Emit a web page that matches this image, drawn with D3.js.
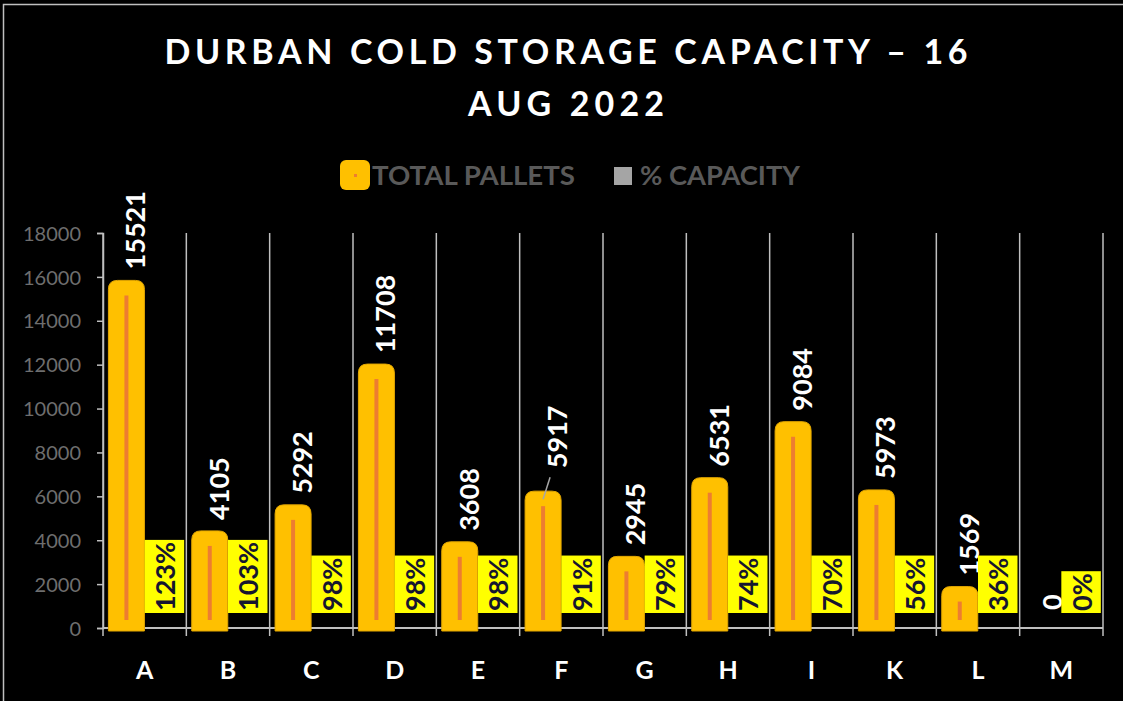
<!DOCTYPE html>
<html>
<head>
<meta charset="utf-8">
<script src="https://cdn.jsdelivr.net/npm/d3@7"></script>
<style>
  html, body { margin: 0; padding: 0; background: #000; }
  svg { display: block; font-family: Lato, "Open Sans", sans-serif; }
</style>
</head>
<body>
<svg id="chart" width="1123" height="701"></svg>
<script>
// ---- data ----
const categories = ["A","B","C","D","E","F","G","H","I","K","L","M"];
const totalPallets = [15521,4105,5292,11708,3608,5917,2945,6531,9084,5973,1569,0];
const pctCapacity = [123,103,98,98,98,91,79,74,70,56,36,0];
const yTicks = [0,2000,4000,6000,8000,10000,12000,14000,16000,18000];
const titleLines = ["DURBAN COLD STORAGE CAPACITY \u2013 16", "AUG 2022"];
const seriesNames = ["TOTAL PALLETS", "% CAPACITY"];

(function () {
const svg = d3.select("#chart");
const W = 1123, H = 701;

svg.append("rect").attr("width", W).attr("height", H).attr("fill", "#000");
// border (top + left visible)
svg.append("rect").attr("x", 3.5).attr("y", 4.5).attr("width", W + 10).attr("height", H + 10)
  .attr("fill", "none").attr("stroke", "#bfbfbf").attr("stroke-width", 1.5);

const pLeft = 103, pRight = 1103, pTop = 233, pBottom = 628;

const x0 = d3.scaleBand().domain(categories).range([pLeft, pRight]).paddingInner(0.076).paddingOuter(0.038);
const x1 = d3.scaleBand().domain(["pallets","pct"]).range([0, x0.bandwidth()]);
const y = d3.scaleLinear().domain([0, 18000]).range([pBottom, pTop]);
const step = x0.step();

// title
const titleG = svg.append("g").attr("fill", "#fff").attr("font-weight", 700).attr("font-size", 34)
  .attr("text-anchor", "middle");
const titleWidths = [803, 196];
const titleBase = [64, 116];
titleLines.forEach((t, i) => {
  titleG.append("text").attr("x", 566).attr("y", titleBase[i]).text(t)
    .attr("textLength", titleWidths[i]).attr("lengthAdjust", "spacing");
});

// legend
const lg = svg.append("g");
lg.append("rect").attr("x", 340).attr("y", 160).attr("width", 30).attr("height", 30).attr("rx", 6)
  .attr("fill", "#FFC000");
lg.append("rect").attr("x", 354).attr("y", 174).attr("width", 3).attr("height", 3).attr("fill", "#ED7D31");
lg.append("text").attr("x", 372).attr("y", 185).attr("fill", "#595959").attr("font-weight", 700)
  .attr("font-size", 26).text(seriesNames[0]).attr("textLength", 203).attr("lengthAdjust", "spacingAndGlyphs");
lg.append("rect").attr("x", 614).attr("y", 167).attr("width", 18).attr("height", 18).attr("fill", "#A5A5A5");
lg.append("text").attr("x", 640).attr("y", 185).attr("fill", "#595959").attr("font-weight", 700)
  .attr("font-size", 26).text(seriesNames[1]).attr("textLength", 160).attr("lengthAdjust", "spacingAndGlyphs");

// gridlines (category boundaries)
const bounds = categories.map((c, i) => pLeft + i * step).concat([pRight]);
svg.append("g").selectAll("line").data(bounds).join("line")
  .attr("x1", d => d).attr("x2", d => d).attr("y1", pTop).attr("y2", pBottom + 8)
  .attr("stroke", "#bfbfbf").attr("stroke-width", 1.5);
// x axis line
svg.append("line").attr("x1", pLeft).attr("x2", pRight).attr("y1", pBottom).attr("y2", pBottom)
  .attr("stroke", "#bfbfbf").attr("stroke-width", 2);

// y axis
const yAxis = d3.axisLeft(y).tickValues(yTicks).tickSize(6).tickPadding(16).tickFormat(d3.format("d"));
const yg = svg.append("g").attr("transform", `translate(${pLeft},0)`).call(yAxis);
yg.select(".domain").attr("stroke", "#bfbfbf").attr("stroke-width", 1.5);
yg.selectAll(".tick line").attr("stroke", "#bfbfbf").attr("stroke-width", 1.5);
yg.selectAll(".tick text").attr("fill", "#6e6e6e").attr("font-size", 20).attr("font-family", "Lato, sans-serif")
  .attr("dy", "0.36em");

// x axis labels
const xAxis = d3.axisBottom(x0).tickSize(0).tickPadding(0);
const xg = svg.append("g").attr("transform", `translate(0,${pBottom})`).call(xAxis);
xg.select(".domain").remove();
xg.selectAll(".tick text").attr("fill", "#fff").attr("font-size", 25).attr("font-weight", 700)
  .attr("font-family", "Lato, sans-serif").attr("dy", null).attr("y", 51);

// bars
function roundTop(x, yTop, w, yBot, r) {
  return `M${x},${yBot}V${yTop + r}Q${x},${yTop} ${x + r},${yTop}H${x + w - r}Q${x + w},${yTop} ${x + w},${yTop + r}V${yBot}Z`;
}
const data = categories.map((c, i) => ({ c, v: totalPallets[i], p: pctCapacity[i] }));
const barW = 36;
const bars = svg.append("g");
data.forEach(d => {
  const cx = x0(d.c) + x1("pallets") + x1.bandwidth() / 2 + 1;
  if (d.v > 0) {
    bars.append("path").attr("d", roundTop(cx - barW / 2, y(d.v) - 7, barW, y(0) + 3, 9))
      .attr("fill", "#FFC000").attr("stroke", "#E3A700").attr("stroke-width", 1);
    bars.append("line").attr("x1", cx).attr("x2", cx).attr("y1", y(d.v) + 8).attr("y2", y(0) - 8)
      .attr("stroke", "#ED7D31").attr("stroke-width", 4);
  }
  // value label
  const lift = d.c === "F" ? 30 : 18;
  if (d.c === "F") {
    bars.append("line").attr("x1", cx).attr("y1", y(d.v) + 1).attr("x2", cx + 7).attr("y2", y(d.v) - 21)
      .attr("stroke", "#a6a6a6").attr("stroke-width", 1.5);
  }
  bars.append("text").attr("transform", `translate(${cx + (d.c === "F" ? 24 : 19)},${y(d.v) - lift}) rotate(-90)`)
    .attr("fill", "#fff").attr("font-size", 27).attr("font-weight", 700).text(d3.format("d")(d.v));

  // percent label with yellow box
  const bx = x0(d.c) + x1("pct");
  const bw = x1.bandwidth() + 1;
  const t = bars.append("text").attr("fill", "#161630").attr("font-size", 27).attr("font-weight", 700)
    .text(d.p + "%");
  const len = t.node().getComputedTextLength();
  const boxBottom = y(0) - 15;
  bars.insert("rect", () => t.node()).attr("x", bx).attr("y", boxBottom - len - 4).attr("width", bw)
    .attr("height", len + 4).attr("fill", "#FFFF00");
  t.attr("transform", `translate(${bx + bw / 2 + 10.5},${boxBottom - 2}) rotate(-90)`);
});
})();
</script>
</body>
</html>
